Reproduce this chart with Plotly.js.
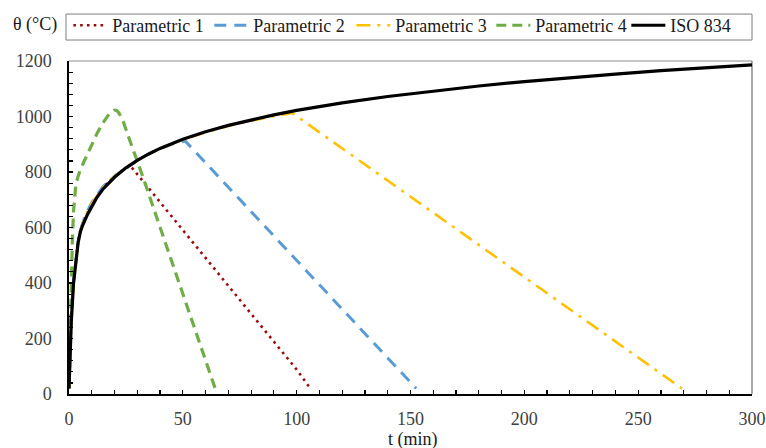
<!DOCTYPE html>
<html>
<head>
<meta charset="utf-8">
<script src="https://cdn.plot.ly/plotly-3.0.1.min.js"></script>
<style>
  html, body { margin: 0; padding: 0; background: #ffffff; }
  #chart { width: 766px; height: 448px; }
</style>
</head>
<body>
<div id="chart"></div>
<script>
// Gas temperature (°C) against time (min): four parametric fire curves and the ISO 834 standard curve
const seriesNames = ["Parametric 1", "Parametric 2", "Parametric 3", "Parametric 4", "ISO 834"];

const tP1 = [0, 1, 2, 3, 4, 5, 7, 10, 15, 20, 25, 27, 40, 60, 80, 100, 106];
const thetaP1 = [20, 265, 405, 490, 550, 590, 635, 685, 745, 785, 815, 822, 691, 490, 289, 88, 20];

const tP2 = [0, 1, 2, 3, 4, 5, 7, 10, 15, 20, 25, 30, 35, 40, 45, 50, 51, 60, 80, 100, 120, 140, 152.5];
const thetaP2 = [20, 265, 405, 490, 550, 590, 640, 690, 748, 785, 815, 842, 865, 885, 900, 910, 912, 833, 657, 481, 305, 130, 20];

const tP3 = [0, 1, 2, 3, 4, 5, 7, 10, 15, 20, 25, 30, 40, 50, 60, 70, 80, 90, 98, 110, 150, 200, 250, 269.2];
const thetaP3 = [20, 262, 402, 488, 548, 588, 637, 687, 745, 785, 815, 842, 885, 916, 943, 966, 985, 1001, 1013, 943, 711, 421, 131, 20];

const tP4 = [0, 0.5, 1, 1.5, 2, 2.5, 3, 4, 5, 7, 10, 12.5, 15, 17.5, 20, 21, 22, 24, 26, 28, 32, 36, 40, 45, 50, 55, 60, 64.2];
const thetaP4 = [20, 250, 420, 560, 660, 720, 755, 785, 808, 845, 900, 942, 978, 1008, 1023, 1022, 1012, 978, 930, 885, 793, 697, 601, 481, 361, 241, 121, 20];

const tISO = [0, 1, 2, 3, 4, 5, 6, 8, 10, 12, 15, 20, 25, 30, 35, 40, 50, 60, 70, 80, 90, 100, 110, 120, 140, 160, 180, 200, 220, 240, 260, 280, 300];
const thetaISO = [20, 260, 400, 485, 545, 585, 608, 645, 678, 705, 739, 781, 815, 842, 865, 885, 918, 945, 968, 988, 1006, 1022, 1036, 1049, 1072, 1092, 1110, 1126, 1140, 1153, 1165, 1176, 1186];

const xTickVals = [0, 50, 100, 150, 200, 250, 300];
const yTickVals = [0, 200, 400, 600, 800, 1000, 1200];

const serif = "Liberation Serif, Times New Roman, serif";

const styles = [
  { color: "#9c0b0b", width: 2.6, dash: "2.6px,4.2px" },
  { color: "#5b9bd5", width: 3, dash: "12px,8px" },
  { color: "#ffc000", width: 2.6, dash: "14px,7px,3px,7px" },
  { color: "#70ad47", width: 3.2, dash: "10px,6px" },
  { color: "#000000", width: 3.2, dash: "solid" }
];
const entryWidths = [92, 93, 91, 86, 86];

const xs = [tP1, tP2, tP3, tP4, tISO];
const ys = [thetaP1, thetaP2, thetaP3, thetaP4, thetaISO];

const traces = seriesNames.map((name, i) => ({
  type: "scatter",
  mode: "lines",
  name: name,
  x: xs[i],
  y: ys[i],
  line: styles[i],
  legendwidth: entryWidths[i],
  hoverinfo: "skip"
}));

const axisFont = { family: serif, size: 18, color: "#404040" };

const layout = {
  width: 766,
  height: 448,
  margin: { l: 69, r: 14, t: 61, b: 54, pad: 0, autoexpand: false },
  paper_bgcolor: "#ffffff",
  plot_bgcolor: "#ffffff",
  showlegend: true,
  legend: {
    orientation: "h",
    x: -0.001,
    xanchor: "left",
    y: 1.162,
    yanchor: "top",
    borderwidth: 0,
    bgcolor: "rgba(0,0,0,0)",
    font: { family: serif, size: 18, color: "#1a1a1a" },
    itemwidth: 34,
    traceorder: "normal"
  },
  xaxis: {
    range: [0, 300],
    tickvals: xTickVals,
    ticktext: xTickVals.map(String),
    ticks: "inside",
    ticklen: 4,
    tickwidth: 1.2,
    tickcolor: "#000000",
    minor: { dtick: 10, ticks: "inside", ticklen: 4, tickwidth: 1.2, tickcolor: "#000000", showgrid: false },
    showline: true,
    linecolor: "#000000",
    linewidth: 1.6,
    showgrid: false,
    zeroline: false,
    tickfont: axisFont,
    ticklabelstandoff: 8,
    automargin: false,
    fixedrange: true
  },
  yaxis: {
    range: [0, 1200],
    tickvals: yTickVals,
    ticktext: yTickVals.map(String),
    ticks: "inside",
    ticklen: 4,
    tickwidth: 1.2,
    tickcolor: "#000000",
    minor: { dtick: 40, ticks: "inside", ticklen: 4, tickwidth: 1.2, tickcolor: "#000000", showgrid: false },
    showline: true,
    linecolor: "#000000",
    linewidth: 1.6,
    showgrid: false,
    zeroline: false,
    tickfont: axisFont,
    ticklabelstandoff: 12,
    automargin: false,
    fixedrange: true
  },
  shapes: [
    // plot frame: top and right edges
    { type: "line", xref: "paper", yref: "paper", x0: 0, x1: 1, y0: 1, y1: 1, line: { color: "#8c8c8c", width: 1.2 }, layer: "below" },
    { type: "line", xref: "paper", yref: "paper", x0: 1, x1: 1, y0: 0, y1: 1, line: { color: "#6f6f6f", width: 1.2 }, layer: "below" },
    // legend box
    { type: "rect", xref: "paper", yref: "paper", x0: -0.0044, x1: 1, y0: 1.063, y1: 1.141, line: { color: "#7f7f7f", width: 1 }, fillcolor: "rgba(0,0,0,0)", layer: "below" }
  ],
  annotations: [
    {
      text: "θ (°C)",
      xref: "paper", yref: "paper",
      x: -0.0498, y: 1.111,
      xanchor: "center", yanchor: "middle",
      showarrow: false,
      font: { family: serif, size: 18, color: "#1a1a1a" }
    },
    {
      text: "t (min)",
      xref: "paper", yref: "paper",
      x: 0.503, y: -0.137,
      xanchor: "center", yanchor: "middle",
      showarrow: false,
      font: { family: serif, size: 18, color: "#1a1a1a" }
    }
  ]
};

Plotly.newPlot("chart", traces, layout, { displayModeBar: false, responsive: false, staticPlot: true });
</script>
</body>
</html>
